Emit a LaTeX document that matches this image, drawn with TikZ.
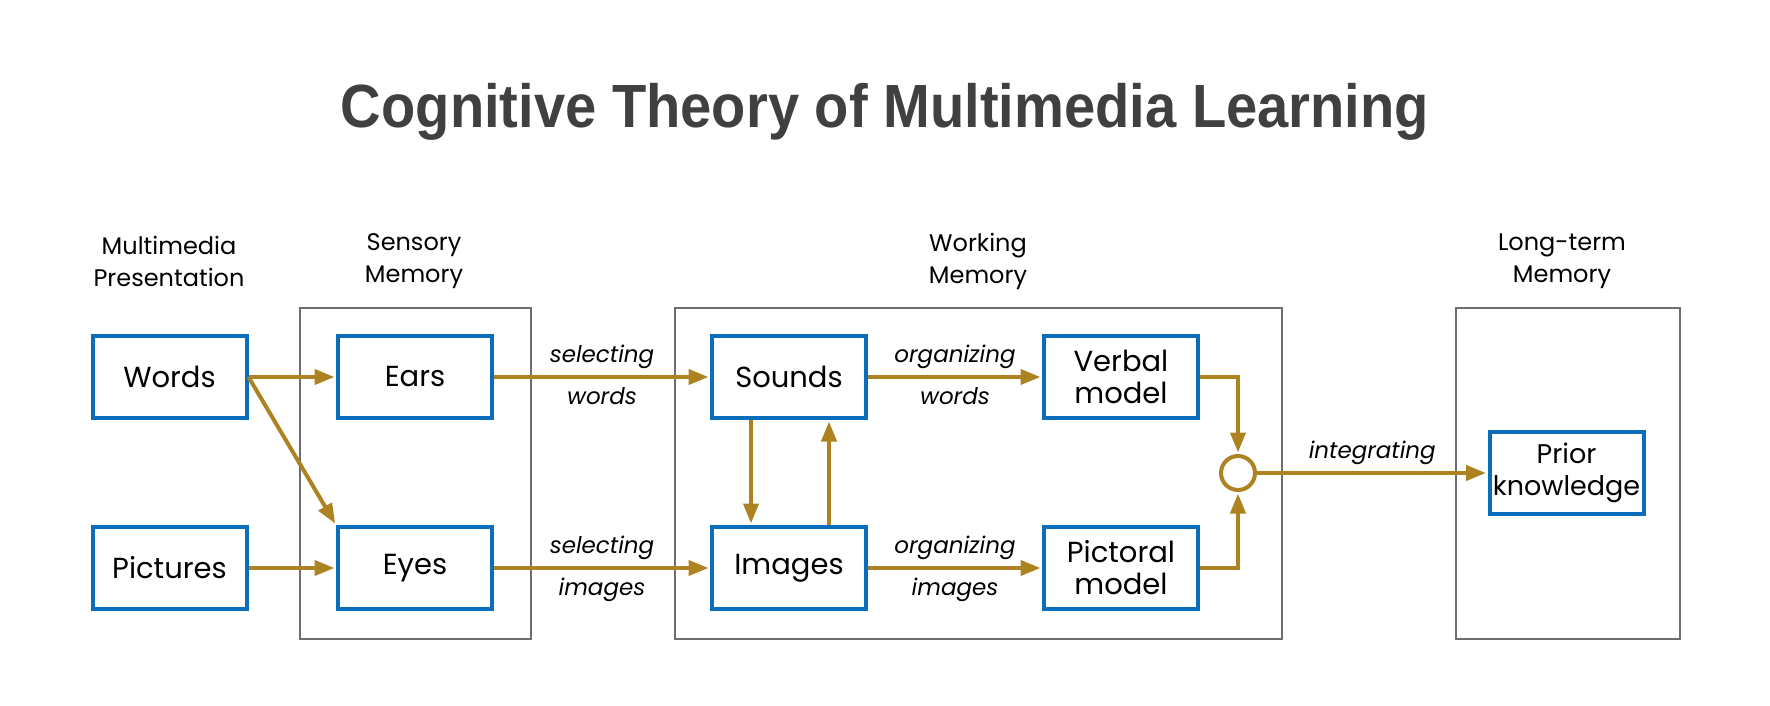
\documentclass[tikz,border=0pt]{standalone}
\usepackage{fontspec}
\setmainfont{Poppins}
\newfontfamily\titlefont{Liberation Sans}
\usetikzlibrary{arrows.meta}
\definecolor{cblue}{HTML}{0A6EBD}
\definecolor{cgold}{HTML}{AD8221}
\definecolor{cgray}{HTML}{6D6E71}
\definecolor{ctitle}{HTML}{404040}
\begin{document}
\begin{tikzpicture}[x=1pt,y=-1pt,
  blk/.style={draw=cblue, line width=4pt, minimum width=154pt, minimum height=82pt,
    inner sep=0pt, align=center, font=\fontsize{29}{32}\selectfont},
  grp/.style={draw=cgray, line width=2pt},
  hdr/.style={align=center, font=\fontsize{24}{32}\selectfont},
  flow/.style={draw=cgold, line width=4pt, shorten >=1.5pt, -{Triangle[length=20pt,width=15pt]}},
  lbl/.style={font=\fontsize{23}{28}\selectfont\itshape, anchor=base},
  hub/.style={circle, draw=cgold, line width=4pt, minimum size=34pt, inner sep=0pt}
]
\useasboundingbox (0,0) rectangle (1770,706);

% title
\node[anchor=base, text=ctitle, font=\titlefont\bfseries\fontsize{61}{70}\selectfont] (title) at (885,128)
  {\scalebox{0.92}[1]{Cognitive Theory of Multimedia Learning}};

% group frames
\draw[grp] (300,308) rectangle (531,639);
\draw[grp] (675,308) rectangle (1282,639);
\draw[grp] (1456,308) rectangle (1680,639);

% headers
\node[hdr] (h1) at (169,261) {Multimedia\\Presentation};
\node[hdr] (h2) at (414,261) {Sensory\\Memory};
\node[hdr] (h3) at (978,261) {Working\\Memory};
\node[hdr] (h4) at (1562,261) {Long-term\\Memory};

% boxes
\node[blk] (words) at (169.5,377) {Words};
\node[blk] (pictures) at (169.5,568) {Pictures};
\node[blk] (ears) at (415,377) {Ears};
\node[blk] (eyes) at (415,568) {Eyes};
\node[blk] (sounds) at (789,377) {Sounds};
\node[blk] (images) at (789,568) {Images};
\node[blk] (verbal) at (1121,377) {Verbal\\model};
\node[blk] (pictoral) at (1121,568) {Pictoral\\model};
\node[blk, font=\fontsize{27}{32}\selectfont] (prior) at (1566.5,473) {Prior\\knowledge};
\node[hub] (int) at (1238,473) {};

% connectors
\draw[flow] (words.east) -- (ears.west);
\draw[flow] (words.east) -- (eyes.north west);
\draw[flow] (pictures.east) -- (eyes.west);
\draw[flow] (ears.east) -- node[lbl, pos=0.5, yshift=15pt] {selecting}
                             node[lbl, pos=0.5, yshift=-27pt] {words} (sounds.west);
\draw[flow] (eyes.east) -- node[lbl, pos=0.5, yshift=15pt] {selecting}
                            node[lbl, pos=0.5, yshift=-27pt] {images} (images.west);
\draw[flow] (sounds.east) -- node[lbl, pos=0.5, yshift=15pt] {organizing}
                              node[lbl, pos=0.5, yshift=-27pt] {words} (verbal.west);
\draw[flow] (images.east) -- node[lbl, pos=0.5, yshift=15pt] {organizing}
                              node[lbl, pos=0.5, yshift=-27pt] {images} (pictoral.west);
\draw[flow] ([xshift=-38pt]sounds.south) -- ([xshift=-38pt]images.north);
\draw[flow] ([xshift=40pt]images.north) -- ([xshift=40pt]sounds.south);
\draw[flow] (verbal.east) -| (int.north);
\draw[flow] (pictoral.east) -| (int.south);
\draw[flow] (int.east) -- node[lbl, pos=0.5, yshift=15pt] {integrating} (prior.west);
\end{tikzpicture}
\end{document}
